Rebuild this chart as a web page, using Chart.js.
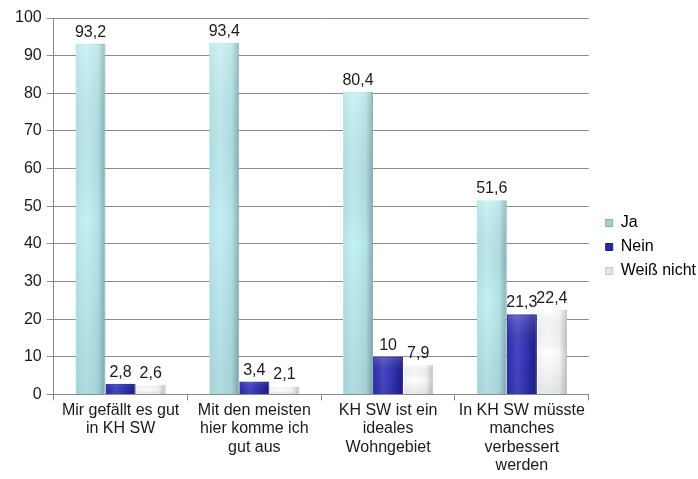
<!DOCTYPE html>
<html>
<head>
<meta charset="utf-8">
<script src="https://cdn.jsdelivr.net/npm/chart.js@4/dist/chart.umd.min.js"></script>
<style>
  html, body { margin: 0; padding: 0; background: #fff; }
  #wrap { width: 698px; height: 479px; }
</style>
</head>
<body>
<div id="wrap"><canvas id="c" width="698" height="479"></canvas></div>
<script>
const categories = [
  ["Mir gefällt es gut", "in KH SW"],
  ["Mit den meisten", "hier komme ich", "gut aus"],
  ["KH SW ist ein", "ideales", "Wohngebiet"],
  ["In KH SW müsste", "manches", "verbessert", "werden"]
];
const seriesNames = ["Ja", "Nein", "Weiß nicht"];
const jaValues = [93.2, 93.4, 80.4, 51.6];
const neinValues = [2.8, 3.4, 10, 21.3];
const weissValues = [2.6, 2.1, 7.9, 22.4];
const yTicks = [0, 10, 20, 30, 40, 50, 60, 70, 80, 90, 100];

const FONT = "'Liberation Sans', Arial, sans-serif";
const TEXT = "#1a1a1a";

// colour stops per series
const shades = [
  { top: "#c4f0f3", mid: "#b4e4e8", edge: "#86afb2", legend: "#9fd0d4" },
  { top: "#4848c8", mid: "#2c2ca8", edge: "#1c1c78", legend: "#2a2aa0" },
  { top: "#ffffff", mid: "#f6f6f6", edge: "#c4c4c4", legend: "#e4e4e4" }
];

// give each bar a cylinder-like shading once its geometry is known
const shadePlugin = {
  id: "shade",
  beforeDatasetsDraw(chart) {
    const ctx = chart.ctx;
    chart.data.datasets.forEach((ds, di) => {
      const meta = chart.getDatasetMeta(di);
      const s = shades[di];
      meta.data.forEach(bar => {
        const left = bar.x - bar.width / 2, right = bar.x + bar.width / 2;
        const g = ctx.createLinearGradient(left, 0, right, 0);
        g.addColorStop(0, s.mid);
        g.addColorStop(0.35, s.top);
        g.addColorStop(0.75, s.mid);
        g.addColorStop(1, s.edge);
        bar.options = Object.assign({}, bar.options, { backgroundColor: g, borderColor: s.edge });
      });
    });
  },
  afterDatasetsDraw(chart) {
    const ctx = chart.ctx;
    ctx.save();
    chart.data.datasets.forEach((ds, di) => {
      const meta = chart.getDatasetMeta(di);
      meta.data.forEach(bar => {
        const left = bar.x - bar.width / 2;
        const h = bar.base - bar.y;
        // darker towards the bottom of the bar
        const v = ctx.createLinearGradient(0, bar.y, 0, bar.base);
        v.addColorStop(0, "rgba(255,255,255,0.18)");
        v.addColorStop(0.5, "rgba(0,0,0,0)");
        v.addColorStop(1, "rgba(0,40,50,0.10)");
        ctx.fillStyle = v;
        ctx.fillRect(left + 1, bar.y + 1, bar.width - 2, h - 1);
      });
    });
    ctx.restore();
  }
};

// value labels above each bar
const valueLabelPlugin = {
  id: "valueLabels",
  afterDatasetsDraw(chart) {
    const ctx = chart.ctx;
    ctx.save();
    ctx.font = "16px " + FONT;
    ctx.fillStyle = TEXT;
    ctx.textAlign = "center";
    ctx.textBaseline = "alphabetic";
    chart.data.datasets.forEach((ds, di) => {
      const meta = chart.getDatasetMeta(di);
      meta.data.forEach((bar, i) => {
        const txt = String(ds.data[i]).replace(".", ",");
        ctx.fillText(txt, bar.x, bar.y - 7);
      });
    });
    ctx.restore();
  }
};

// leave a wider gap between the plot and the legend
const legendGapPlugin = {
  id: "legendGap",
  afterLayout(chart) {
    const lg = chart.legend;
    if (lg) { lg.left += 9; lg.right += 9; }
  }
};

new Chart(document.getElementById("c"), {
  type: "bar",
  data: {
    labels: categories,
    datasets: [
      { label: seriesNames[0], data: jaValues },
      { label: seriesNames[1], data: neinValues },
      { label: seriesNames[2], data: weissValues }
    ].map((d, i) => Object.assign(d, {
      backgroundColor: shades[i].legend,
      borderColor: shades[i].edge,
      borderWidth: { left: 0, right: 1, top: 0, bottom: 0 },
      borderSkipped: "bottom",
      categoryPercentage: 0.675,
      barPercentage: 1.0
    }))
  },
  options: {
    responsive: false,
    animation: false,
    layout: { padding: { left: 10, top: 18, right: 1, bottom: 3 } },
    plugins: {
      tooltip: { enabled: false },
      legend: {
        position: "right",
        align: "center",
        labels: {
          font: { family: FONT, size: 16 },
          color: TEXT,
          boxWidth: 7,
          boxHeight: 7,
          padding: 8,
          generateLabels(chart) {
            return chart.data.datasets.map((ds, i) => ({
              text: ds.label,
              fillStyle: shades[i].legend,
              strokeStyle: shades[i].edge,
              lineWidth: 1,
              datasetIndex: i,
              hidden: false
            }));
          }
        }
      }
    },
    scales: {
      x: {
        offset: true,
        grid: {
          offset: true,
          drawOnChartArea: false,
          drawTicks: true,
          tickLength: 6,
          color: "#8a8a8a"
        },
        border: { color: "#8a8a8a", width: 1 },
        ticks: {
          font: { family: FONT, size: 16, lineHeight: 1.15 },
          color: TEXT,
          maxRotation: 0,
          autoSkip: false,
          padding: 1
        }
      },
      y: {
        min: 0,
        max: 100,
        afterBuildTicks(axis) { axis.ticks = yTicks.map(v => ({ value: v })); },
        grid: { color: "#8c8c8c", tickLength: 7, drawTicks: true },
        border: { color: "#8a8a8a", width: 1 },
        ticks: {
          font: { family: FONT, size: 16 },
          color: TEXT,
          padding: 5
        }
      }
    }
  },
  plugins: [shadePlugin, valueLabelPlugin, legendGapPlugin]
});
</script>
</body>
</html>
